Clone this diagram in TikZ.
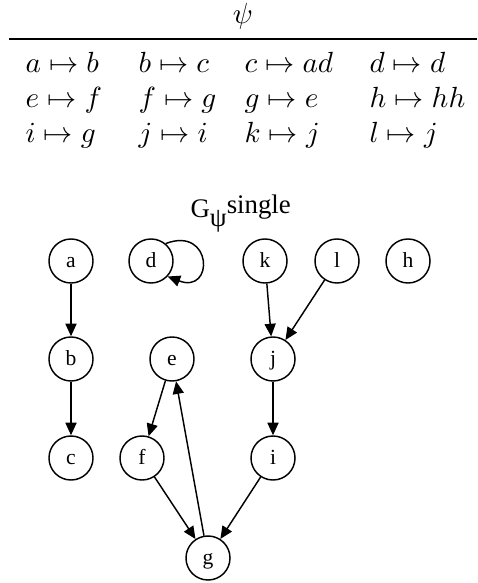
\documentclass[tikz,border=0pt]{standalone}
\usepackage{fontspec}
\usepackage{amsmath}
\usetikzlibrary{arrows.meta}
\newfontfamily\dotfont{Liberation Serif}

\tikzset{
  vert/.style={draw, circle, line width=0.5pt, minimum size=15.1pt, inner sep=0pt,
               text height=5.5pt, text depth=1.2pt,
               font=\dotfont\fontsize{7.4}{8}\selectfont},
  edge/.style={line width=0.5pt, -{Triangle[length=4.3pt,width=3.8pt]}},
  mapping/.style={anchor=base west, inner sep=0pt}
}

\begin{document}
\begin{tikzpicture}[x=0.343pt, y=-0.343pt]
  \useasboundingbox (0,0) rectangle (477,583);

  % the substitution table
  \node[anchor=base, inner sep=0pt] (psi) at (243,24) {$\psi$};
  \draw[line width=0.5pt] (9,39) -- (477,39);

  \node[mapping] (ma) at (25,73)  {$a\mapsto b$};
  \node[mapping] (mb) at (138,73) {$b\mapsto c$};
  \node[mapping] (mc) at (244,73) {$c\mapsto ad$};
  \node[mapping] (md) at (369,73) {$d\mapsto d$};
  \node[mapping] (me) at (25,108)  {$e\mapsto f$};
  \node[mapping] (mf) at (138,108) {$f\mapsto g$};
  \node[mapping] (mg) at (244,108) {$g\mapsto e$};
  \node[mapping] (mh) at (369,108) {$h\mapsto hh$};
  \node[mapping] (mi) at (25,143)  {$i\mapsto g$};
  \node[mapping] (mj) at (138,143) {$j\mapsto i$};
  \node[mapping] (mk) at (244,143) {$k\mapsto j$};
  \node[mapping] (ml) at (369,143) {$l\mapsto j$};

  % the graph
  \node[anchor=base west, inner sep=0pt] (title) at (190,218)
    {\dotfont\fontsize{9.2}{10}\selectfont G\raisebox{-3pt}{ψ}\raisebox{1.7pt}{single}};

  \node[vert] (a) at (71,261)  {a};
  \node[vert] (d) at (151,261) {d};
  \node[vert] (k) at (265,261) {k};
  \node[vert] (l) at (337,261) {l};
  \node[vert] (h) at (408,261) {h};
  \node[vert] (b) at (71,359)  {b};
  \node[vert] (e) at (172,359) {e};
  \node[vert] (j) at (273,359) {j};
  \node[vert] (c) at (71,458)  {c};
  \node[vert] (f) at (142,458) {f};
  \node[vert] (i) at (273,458) {i};
  \node[vert] (g) at (208,558) {g};

  \draw[edge] (a) -- (b);
  \draw[edge] (b) -- (c);
  \draw[edge] (d.50) .. controls +(47,-18) and +(47,18) .. (d.-43);
  \draw[edge] (k) -- (j);
  \draw[edge] (l) -- (j);
  \draw[edge] (j) -- (i);
  \draw[edge] (e) -- (f);
  \draw[edge] (f) -- (g);
  \draw[edge] (i) -- (g);
  \draw[edge] (g) -- (e);
\end{tikzpicture}
\end{document}
